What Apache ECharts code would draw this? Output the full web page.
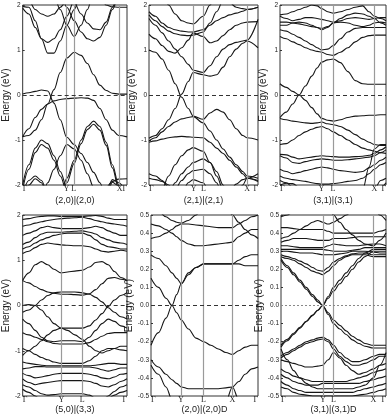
<!DOCTYPE html>
<html>
<head>
<meta charset="utf-8">
<script src="https://cdn.jsdelivr.net/npm/echarts@6/dist/echarts.min.js"></script>
<style>html,body{margin:0;padding:0;background:#fff}#chart{width:391px;height:418px}</style>
</head>
<body>
<div id="chart"></div>
<script>
// k path (fraction of path length) and band energies (eV) per panel
var kPath1 = [0, 0.06, 0.12, 0.18, 0.24, 0.30, 0.36, 0.423, 0.494, 0.56, 0.62, 0.68, 0.74, 0.80, 0.86, 0.92, 1];
var symPos1 = [0, 0.423, 0.494, 0.926, 1];
var symLab1 = ['Γ', 'Y', 'L', 'X', 'Γ'];
var bands1 = [
  [0.02, 0.05, 0.08, 0.11, 0.09, -0.18, -0.55, -0.94, -1.10, -1.30, -1.50, -1.72, -1.95, -2.30, -2.60, -2.60, -2.60],
  [-0.93, -0.90, -0.78, -0.55, -0.20, 0.12, 0.50, 0.82, 0.95, 0.88, 0.70, 0.45, 0.22, 0.10, 0.04, 0.02, 0.02],
  [-0.93, -0.75, -0.50, -0.32, -0.20, -0.13, -0.10, -0.08, -0.07, -0.06, -0.07, -0.12, -0.30, -0.55, -0.78, -0.90, -0.93],
  [-2.00, -1.55, -1.18, -1.00, -1.08, -1.35, -1.70, -2.05, -2.40, -2.60, -2.60, -2.60, -2.60, -2.60, -2.60, -2.60, -2.60],
  [-2.10, -1.65, -1.28, -1.10, -1.18, -1.45, -1.80, -2.15, -2.50, -2.60, -2.60, -2.60, -2.60, -2.60, -2.60, -2.60, -2.60],
  [-2.60, -2.60, -2.60, -2.60, -2.60, -2.60, -2.30, -1.85, -1.45, -1.00, -0.70, -0.58, -0.70, -1.05, -1.55, -2.00, -2.50],
  [-2.60, -2.60, -2.60, -2.60, -2.60, -2.60, -2.40, -1.95, -1.52, -1.08, -0.77, -0.65, -0.78, -1.12, -1.62, -2.08, -2.60],
  [-2.60, -2.60, -2.60, -2.30, -1.95, -1.65, -1.35, -1.10, -1.20, -1.45, -1.75, -2.05, -2.40, -2.60, -2.60, -2.60, -2.60],
  [-2.60, -2.60, -2.60, -2.60, -2.60, -2.60, -2.60, -2.60, -2.60, -2.60, -2.60, -2.60, -2.30, -2.05, -1.92, -1.87, -1.86],
  [-2.20, -1.90, -1.80, -1.90, -2.20, -2.60, -2.60, -2.60, -2.60, -2.60, -2.60, -2.60, -2.60, -2.20, -1.88, -1.95, -2.20],
  [-2.30, -2.00, -1.86, -1.95, -2.30, -2.60, -2.60, -2.60, -2.60, -2.60, -2.60, -2.60, -2.60, -2.30, -1.94, -2.02, -2.30],
  [1.97, 1.95, 1.65, 1.25, 0.93, 0.93, 1.20, 1.55, 1.90, 2.30, 2.60, 2.60, 2.60, 2.60, 2.60, 2.60, 2.60],
  [1.93, 1.80, 1.50, 1.25, 1.17, 1.25, 1.45, 1.75, 2.10, 2.60, 2.60, 2.60, 2.60, 2.60, 2.60, 2.60, 2.60],
  [2.30, 2.10, 1.90, 1.80, 1.75, 1.80, 1.95, 2.10, 2.40, 2.60, 2.60, 2.60, 2.60, 2.60, 2.60, 2.60, 2.60],
  [2.60, 2.60, 2.60, 2.60, 2.60, 2.60, 2.30, 1.95, 1.65, 1.40, 1.25, 1.20, 1.28, 1.55, 1.90, 2.20, 2.50],
  [2.60, 2.60, 2.60, 2.60, 2.60, 2.60, 2.60, 2.40, 2.05, 1.80, 1.60, 1.47, 1.45, 1.62, 1.95, 2.30, 2.60],
  [2.60, 2.60, 2.60, 2.60, 2.60, 2.20, 1.90, 1.55, 1.30, 1.55, 1.90, 2.30, 2.60, 2.60, 2.60, 2.60, 2.60],
  [2.60, 2.60, 2.60, 2.60, 2.60, 2.60, 2.60, 2.60, 2.60, 2.60, 2.60, 2.60, 2.20, 2.00, 1.96, 1.95, 1.95]
];

var kPath2 = [0, 0.06, 0.12, 0.18, 0.24, 0.30, 0.36, 0.405, 0.497, 0.56, 0.62, 0.68, 0.74, 0.80, 0.86, 0.90, 1];
var symPos2 = [0, 0.405, 0.497, 0.90, 1];
var symLab2 = ['Γ', 'Y', 'L', 'X', 'Γ'];
var bands2 = [
  [1.00, 0.95, 0.80, 0.55, 0.25, -0.05, -0.30, -0.47, -0.54, -0.40, -0.32, -0.38, -0.55, -0.75, -0.90, -0.95, -1.00],
  [-0.96, -0.90, -0.75, -0.55, -0.30, 0.02, 0.30, 0.50, 0.45, 0.42, 0.45, 0.62, 0.85, 1.02, 1.15, 1.20, 1.05],
  [-1.02, -0.95, -0.82, -0.70, -0.60, -0.53, -0.50, -0.48, -0.62, -0.80, -1.00, -1.20, -1.38, -1.55, -1.70, -1.80, -1.85],
  [-1.05, -1.02, -0.98, -0.95, -0.93, -0.92, -0.93, -0.94, -0.95, -1.05, -1.18, -1.30, -1.45, -1.60, -1.75, -1.85, -1.90],
  [-2.60, -2.40, -2.10, -1.80, -1.55, -1.35, -1.22, -1.17, -1.25, -1.50, -1.80, -2.10, -2.40, -2.60, -2.60, -2.60, -2.60],
  [-2.60, -2.60, -2.50, -2.20, -1.95, -1.75, -1.60, -1.50, -1.42, -1.50, -1.70, -2.00, -2.40, -2.60, -2.60, -2.60, -2.60],
  [-2.60, -2.60, -2.60, -2.40, -2.10, -1.90, -1.75, -1.68, -1.65, -1.75, -1.95, -2.30, -2.60, -2.60, -2.60, -2.60, -2.60],
  [-2.60, -2.60, -2.60, -2.60, -2.40, -2.20, -1.95, -1.88, -1.95, -2.20, -2.60, -2.60, -2.60, -2.60, -2.60, -2.60, -2.60],
  [-1.75, -1.80, -1.90, -2.05, -2.30, -2.60, -2.60, -2.60, -2.60, -2.60, -2.60, -2.60, -2.60, -2.30, -2.00, -1.85, -1.75],
  [-1.85, -1.88, -1.92, -2.00, -2.20, -2.60, -2.60, -2.60, -2.60, -2.60, -2.60, -2.40, -2.15, -1.98, -1.88, -1.85, -1.92],
  [1.35, 1.25, 1.10, 0.97, 0.93, 1.05, 1.22, 1.38, 1.30, 1.16, 1.20, 1.32, 1.45, 1.55, 1.60, 1.62, 1.63],
  [1.70, 1.55, 1.38, 1.20, 1.02, 0.85, 0.68, 0.55, 0.50, 0.65, 0.85, 1.02, 1.12, 1.17, 1.20, 1.22, 1.68],
  [1.85, 1.75, 1.60, 1.50, 1.45, 1.42, 1.40, 1.40, 1.45, 1.55, 1.65, 1.72, 1.78, 1.82, 1.86, 1.90, 1.95],
  [1.78, 1.65, 1.52, 1.42, 1.36, 1.33, 1.32, 1.33, 1.40, 1.60, 1.85, 2.10, 2.40, 2.60, 2.60, 2.60, 2.60],
  [2.60, 2.60, 2.30, 2.00, 1.80, 1.65, 1.60, 1.58, 1.75, 2.00, 2.30, 2.60, 2.60, 2.60, 2.60, 2.60, 2.60],
  [2.60, 2.60, 2.60, 2.60, 2.60, 2.60, 2.60, 2.60, 2.60, 2.60, 2.60, 2.30, 2.05, 1.95, 1.92, 1.90, 1.95]
];

var kPath3 = [0, 0.06, 0.12, 0.18, 0.24, 0.30, 0.35, 0.393, 0.45, 0.503, 0.57, 0.64, 0.71, 0.78, 0.84, 0.89, 0.95, 1];
var symPos3 = [0, 0.393, 0.503, 0.89, 1];
var symLab3 = ['Γ', 'Y', 'L', 'X', 'Γ'];
var bands3 = [
  [0.25, 0.17, 0.08, 0.00, -0.12, -0.28, -0.42, -0.52, -0.56, -0.58, -0.55, -0.50, -0.47, -0.46, -0.45, -0.45, -0.44, -0.44],
  [-0.50, -0.38, -0.20, 0.00, 0.20, 0.42, 0.60, 0.73, 0.78, 0.80, 0.72, 0.52, 0.32, 0.25, 0.24, 0.24, 0.24, 0.24],
  [-0.52, -0.55, -0.58, -0.60, -0.62, -0.63, -0.62, -0.60, -0.64, -0.66, -0.70, -0.78, -0.88, -0.98, -1.05, -1.10, -1.12, -1.12],
  [-1.10, -1.08, -1.00, -0.90, -0.82, -0.76, -0.72, -0.70, -0.75, -0.82, -0.90, -1.00, -1.10, -1.18, -1.22, -1.25, -1.28, -1.30],
  [-1.32, -1.33, -1.38, -1.42, -1.40, -1.38, -1.36, -1.35, -1.36, -1.37, -1.38, -1.38, -1.37, -1.36, -1.34, -1.30, -1.22, -1.15],
  [-1.35, -1.40, -1.50, -1.52, -1.48, -1.45, -1.43, -1.42, -1.43, -1.45, -1.45, -1.44, -1.42, -1.40, -1.38, -1.35, -1.28, -1.22],
  [-1.65, -1.70, -1.75, -1.72, -1.68, -1.65, -1.62, -1.60, -1.62, -1.65, -1.68, -1.70, -1.72, -1.70, -1.62, -1.55, -1.45, -1.38],
  [-1.80, -1.85, -1.88, -1.90, -1.92, -1.95, -1.97, -1.98, -1.98, -1.97, -1.95, -1.92, -1.90, -1.85, -1.75, -1.65, -1.55, -1.50],
  [-1.90, -1.95, -2.05, -2.20, -2.40, -2.60, -2.60, -2.60, -2.60, -2.60, -2.60, -2.60, -2.60, -2.60, -2.40, -2.10, -1.90, -1.85],
  [-2.00, -1.96, -1.97, -2.05, -2.20, -2.60, -2.60, -2.60, -2.60, -2.60, -2.60, -2.60, -2.60, -2.60, -2.60, -2.30, -2.05, -1.95],
  [-2.60, -2.60, -2.60, -2.60, -2.60, -2.60, -2.60, -2.60, -2.60, -2.60, -2.60, -2.60, -2.40, -2.10, -1.60, -1.20, -1.10, -1.10],
  [1.30, 1.25, 1.18, 1.12, 1.05, 1.00, 0.97, 0.95, 0.90, 0.88, 0.95, 1.05, 1.18, 1.28, 1.32, 1.33, 1.33, 1.33],
  [1.45, 1.42, 1.35, 1.28, 1.20, 1.12, 1.05, 1.00, 1.02, 1.10, 1.25, 1.40, 1.48, 1.50, 1.50, 1.50, 1.50, 1.50],
  [1.55, 1.55, 1.60, 1.62, 1.60, 1.55, 1.50, 1.45, 1.50, 1.60, 1.62, 1.60, 1.55, 1.52, 1.55, 1.60, 1.62, 1.60],
  [1.75, 1.70, 1.65, 1.68, 1.72, 1.72, 1.70, 1.68, 1.65, 1.62, 1.65, 1.70, 1.72, 1.70, 1.68, 1.70, 1.72, 1.72],
  [1.78, 1.80, 1.85, 1.90, 1.95, 2.00, 1.98, 1.92, 1.85, 1.82, 1.85, 1.90, 1.95, 1.98, 1.85, 1.75, 1.70, 1.65],
  [1.62, 1.62, 1.60, 1.58, 1.55, 1.52, 1.50, 1.48, 1.52, 1.60, 1.70, 1.78, 1.82, 1.80, 1.75, 1.70, 1.60, 1.55]
];

var kPath4 = [0, 0.06, 0.12, 0.18, 0.24, 0.30, 0.368, 0.43, 0.50, 0.573, 0.64, 0.70, 0.76, 0.82, 0.88, 0.94, 1];
var symPos4 = [0, 0.368, 0.573, 1];
var symLab4 = ['Γ', 'Y', 'L', 'Γ'];
var bands4 = [
  [0.55, 0.72, 0.90, 0.97, 0.90, 0.80, 0.72, 0.74, 0.76, 0.78, 0.85, 0.95, 0.97, 0.90, 0.75, 0.62, 0.55],
  [0.55, 0.50, 0.42, 0.35, 0.30, 0.27, 0.25, 0.25, 0.24, 0.23, 0.26, 0.35, 0.48, 0.60, 0.62, 0.58, 0.55],
  [0.00, 0.02, 0.00, -0.10, -0.25, -0.40, -0.50, -0.50, -0.50, -0.50, -0.45, -0.32, -0.18, -0.02, 0.12, 0.22, 0.28],
  [-0.15, -0.10, 0.00, 0.12, 0.22, 0.28, 0.30, 0.30, 0.30, 0.28, 0.25, 0.18, 0.08, -0.05, -0.15, -0.25, -0.30],
  [-0.30, -0.40, -0.55, -0.70, -0.78, -0.80, -0.78, -0.78, -0.78, -0.80, -0.70, -0.55, -0.40, -0.30, -0.35, -0.45, -0.50],
  [-0.60, -0.65, -0.70, -0.75, -0.80, -0.84, -0.85, -0.85, -0.85, -0.85, -0.82, -0.75, -0.68, -0.62, -0.60, -0.60, -0.60],
  [-1.10, -1.00, -0.90, -0.78, -0.65, -0.55, -0.50, -0.55, -0.65, -0.75, -0.90, -1.00, -1.05, -1.00, -0.95, -0.90, -0.90],
  [-0.95, -1.00, -1.08, -1.15, -1.20, -1.25, -1.28, -1.28, -1.28, -1.28, -1.22, -1.12, -1.00, -0.95, -0.95, -0.98, -1.00],
  [-1.25, -1.28, -1.30, -1.32, -1.33, -1.33, -1.33, -1.33, -1.33, -1.33, -1.33, -1.32, -1.30, -1.28, -1.28, -1.30, -1.30],
  [-1.40, -1.38, -1.35, -1.35, -1.36, -1.36, -1.36, -1.36, -1.36, -1.36, -1.36, -1.38, -1.42, -1.45, -1.42, -1.38, -1.38],
  [-1.50, -1.55, -1.60, -1.58, -1.55, -1.52, -1.50, -1.50, -1.50, -1.50, -1.52, -1.55, -1.60, -1.62, -1.58, -1.52, -1.50],
  [-1.62, -1.70, -1.75, -1.72, -1.70, -1.68, -1.66, -1.66, -1.66, -1.66, -1.68, -1.72, -1.78, -1.80, -1.75, -1.68, -1.62],
  [-1.75, -1.80, -1.88, -1.95, -1.98, -1.97, -1.95, -1.95, -1.95, -1.95, -1.98, -2.05, -2.10, -2.00, -1.90, -1.80, -1.75],
  [-1.85, -1.92, -2.00, -2.10, -2.20, -2.40, -2.60, -2.60, -2.60, -2.60, -2.60, -2.40, -2.20, -2.05, -1.98, -1.92, -1.88],
  [1.15, 1.20, 1.28, 1.35, 1.38, 1.36, 1.34, 1.33, 1.32, 1.32, 1.30, 1.25, 1.20, 1.18, 1.20, 1.22, 1.20],
  [1.25, 1.30, 1.38, 1.45, 1.50, 1.55, 1.58, 1.60, 1.60, 1.60, 1.55, 1.45, 1.35, 1.30, 1.28, 1.25, 1.25],
  [1.35, 1.40, 1.50, 1.58, 1.62, 1.62, 1.62, 1.63, 1.64, 1.65, 1.62, 1.58, 1.50, 1.45, 1.40, 1.38, 1.35],
  [1.55, 1.60, 1.65, 1.72, 1.75, 1.72, 1.70, 1.70, 1.70, 1.70, 1.72, 1.75, 1.72, 1.65, 1.60, 1.55, 1.55],
  [1.75, 1.78, 1.82, 1.85, 1.88, 1.90, 1.92, 1.93, 1.94, 1.95, 1.92, 1.88, 1.85, 1.82, 1.80, 1.78, 1.75],
  [1.90, 1.92, 1.95, 1.97, 1.98, 1.98, 1.97, 1.97, 1.97, 1.97, 1.98, 1.99, 1.97, 1.93, 1.90, 1.90, 1.90]
];

var kPath5 = [0, 0.07, 0.14, 0.196, 0.24, 0.283, 0.35, 0.42, 0.494, 0.56, 0.63, 0.70, 0.761, 0.82, 0.88, 0.94, 1];
var symPos5 = [0, 0.283, 0.494, 0.761, 1];
var symLab5 = ['Γ', 'Y', 'L', 'X', 'Γ'];
var bands5 = [
  [0.15, 0.10, 0.04, 0.00, -0.04, -0.08, -0.13, -0.18, -0.20, -0.22, -0.24, -0.26, -0.27, -0.25, -0.23, -0.22, -0.22],
  [-0.22, -0.15, -0.07, 0.00, 0.06, 0.12, 0.18, 0.21, 0.23, 0.23, 0.23, 0.23, 0.23, 0.23, 0.22, 0.22, 0.22],
  [0.28, 0.26, 0.22, 0.18, 0.15, 0.12, 0.17, 0.21, 0.23, 0.23, 0.23, 0.23, 0.23, 0.25, 0.27, 0.28, 0.28],
  [-0.30, -0.34, -0.38, -0.41, -0.43, -0.45, -0.46, -0.46, -0.46, -0.46, -0.46, -0.455, -0.45, -0.42, -0.38, -0.35, -0.34],
  [-0.33, -0.38, -0.45, -0.52, -0.58, -0.60, -0.60, -0.60, -0.60, -0.60, -0.60, -0.60, -0.60, -0.60, -0.60, -0.60, -0.60],
  [-0.60, -0.60, -0.60, -0.60, -0.60, -0.60, -0.60, -0.60, -0.60, -0.60, -0.60, -0.53, -0.45, -0.52, -0.60, -0.60, -0.60],
  [0.45, 0.44, 0.42, 0.40, 0.38, 0.36, 0.34, 0.33, 0.33, 0.335, 0.34, 0.345, 0.35, 0.38, 0.40, 0.42, 0.42],
  [0.37, 0.38, 0.40, 0.42, 0.44, 0.45, 0.45, 0.445, 0.44, 0.435, 0.43, 0.43, 0.43, 0.45, 0.47, 0.49, 0.50],
  [0.55, 0.52, 0.49, 0.47, 0.46, 0.455, 0.47, 0.50, 0.55, 0.60, 0.60, 0.60, 0.60, 0.60, 0.60, 0.60, 0.60],
  [0.60, 0.60, 0.60, 0.60, 0.60, 0.60, 0.60, 0.60, 0.60, 0.60, 0.60, 0.55, 0.50, 0.46, 0.42, 0.39, 0.37]
];

var kPath6 = [0, 0.06, 0.12, 0.18, 0.24, 0.30, 0.35, 0.396, 0.45, 0.50, 0.56, 0.62, 0.68, 0.74, 0.80, 0.88, 0.94, 1];
var symPos6 = [0, 0.396, 0.50, 0.88, 1];
var symLab6 = ['Γ', 'Y', 'L', 'X', 'Γ'];
var bands6 = [
  [0.26, 0.22, 0.18, 0.14, 0.10, 0.06, 0.03, 0.00, -0.04, -0.08, -0.11, -0.14, -0.17, -0.19, -0.21, -0.22, -0.22, -0.22],
  [0.25, 0.21, 0.17, 0.13, 0.09, 0.05, 0.02, 0.00, -0.05, -0.10, -0.13, -0.16, -0.19, -0.21, -0.225, -0.235, -0.235, -0.235],
  [-0.22, -0.187, -0.153, -0.12, -0.087, -0.053, -0.026, 0.00, 0.04, 0.08, 0.12, 0.16, 0.20, 0.24, 0.27, 0.30, 0.30, 0.30],
  [-0.23, -0.195, -0.16, -0.125, -0.09, -0.056, -0.027, 0.00, 0.05, 0.10, 0.14, 0.18, 0.22, 0.26, 0.29, 0.31, 0.31, 0.31],
  [0.27, 0.26, 0.25, 0.23, 0.21, 0.19, 0.18, 0.17, 0.19, 0.22, 0.25, 0.27, 0.28, 0.28, 0.28, 0.27, 0.27, 0.27],
  [0.28, 0.27, 0.26, 0.245, 0.23, 0.21, 0.195, 0.19, 0.21, 0.24, 0.26, 0.275, 0.285, 0.29, 0.29, 0.28, 0.28, 0.28],
  [0.30, 0.30, 0.295, 0.29, 0.29, 0.29, 0.285, 0.28, 0.28, 0.28, 0.285, 0.29, 0.30, 0.30, 0.30, 0.295, 0.29, 0.29],
  [0.31, 0.31, 0.31, 0.31, 0.31, 0.31, 0.31, 0.31, 0.305, 0.30, 0.30, 0.30, 0.305, 0.31, 0.32, 0.32, 0.32, 0.32],
  [0.33, 0.33, 0.325, 0.32, 0.32, 0.32, 0.32, 0.32, 0.33, 0.34, 0.335, 0.33, 0.33, 0.33, 0.335, 0.34, 0.34, 0.33],
  [0.43, 0.43, 0.425, 0.42, 0.42, 0.42, 0.42, 0.42, 0.41, 0.40, 0.40, 0.40, 0.40, 0.40, 0.40, 0.40, 0.41, 0.42],
  [0.37, 0.38, 0.40, 0.42, 0.44, 0.46, 0.47, 0.46, 0.45, 0.46, 0.48, 0.50, 0.52, 0.55, 0.60, 0.60, 0.60, 0.60],
  [0.60, 0.60, 0.60, 0.60, 0.60, 0.60, 0.60, 0.60, 0.55, 0.50, 0.46, 0.42, 0.39, 0.36, 0.34, 0.33, 0.36, 0.40],
  [0.35, 0.36, 0.37, 0.37, 0.37, 0.365, 0.36, 0.36, 0.36, 0.37, 0.37, 0.37, 0.375, 0.38, 0.38, 0.38, 0.38, 0.38],
  [0.49, 0.50, 0.52, 0.55, 0.60, 0.60, 0.60, 0.60, 0.60, 0.60, 0.60, 0.60, 0.60, 0.60, 0.60, 0.55, 0.50, 0.47],
  [-0.28, -0.26, -0.24, -0.22, -0.20, -0.19, -0.18, -0.175, -0.19, -0.22, -0.26, -0.29, -0.31, -0.31, -0.30, -0.28, -0.27, -0.27],
  [-0.29, -0.27, -0.25, -0.23, -0.21, -0.20, -0.19, -0.185, -0.20, -0.24, -0.28, -0.31, -0.33, -0.33, -0.32, -0.30, -0.28, -0.28],
  [-0.30, -0.31, -0.32, -0.33, -0.34, -0.34, -0.335, -0.33, -0.30, -0.26, -0.29, -0.33, -0.36, -0.38, -0.37, -0.35, -0.33, -0.32],
  [-0.35, -0.37, -0.39, -0.40, -0.41, -0.42, -0.42, -0.42, -0.42, -0.42, -0.42, -0.42, -0.41, -0.40, -0.39, -0.37, -0.36, -0.35],
  [-0.38, -0.40, -0.42, -0.43, -0.44, -0.44, -0.44, -0.43, -0.43, -0.43, -0.43, -0.43, -0.43, -0.43, -0.42, -0.41, -0.40, -0.39],
  [-0.42, -0.44, -0.46, -0.47, -0.48, -0.48, -0.48, -0.48, -0.48, -0.48, -0.48, -0.48, -0.48, -0.47, -0.46, -0.45, -0.44, -0.43],
  [-0.24, -0.30, -0.36, -0.40, -0.43, -0.45, -0.46, -0.46, -0.46, -0.46, -0.46, -0.46, -0.46, -0.45, -0.44, -0.40, -0.33, -0.26],
  [-0.45, -0.46, -0.48, -0.49, -0.495, -0.50, -0.50, -0.50, -0.50, -0.50, -0.50, -0.50, -0.50, -0.495, -0.49, -0.48, -0.47, -0.46]
];

var titles = ['(2,0)|(2,0)', '(2,1)|(2,1)', '(3,1)|(3,1)', '(5,0)|(3,3)', '(2,0)|(2,0)D', '(3,1)|(3,1)D'];

var panels = [
  { k: kPath1, bands: bands1, sym: symPos1, lab: symLab1, min: -2, max: 2, step: 1 },
  { k: kPath2, bands: bands2, sym: symPos2, lab: symLab2, min: -2, max: 2, step: 1 },
  { k: kPath3, bands: bands3, sym: symPos3, lab: symLab3, min: -2, max: 2, step: 1 },
  { k: kPath4, bands: bands4, sym: symPos4, lab: symLab4, min: -2, max: 2, step: 1 },
  { k: kPath5, bands: bands5, sym: symPos5, lab: symLab5, min: -0.5, max: 0.5, step: 0.1 },
  { k: kPath6, bands: bands6, sym: symPos6, lab: symLab6, min: -0.5, max: 0.5, step: 0.1 }
];

// layout
var grids = [
  { left: 19, top: 5, width: 108, height: 180 },
  { left: 149, top: 5, width: 109, height: 180 },
  { left: 280, top: 5, width: 106, height: 180 },
  { left: 19, top: 215, width: 108, height: 181 },
  { left: 151, top: 215, width: 107, height: 181 },
  { left: 281, top: 215, width: 105, height: 181 }
];
var nameGaps = [9, 7, 7, 8, 12, 11];

var option = { animation: false, grid: [], xAxis: [], yAxis: [], series: [] };

panels.forEach(function (p, i) {
  var g = grids[i];
  option.grid.push({ left: g.left, top: g.top, width: g.width, height: g.height, show: true, borderColor: '#333', borderWidth: 1 });
  option.xAxis.push({
    type: 'value', gridIndex: i, min: 0, max: 1,
    name: titles[i], nameLocation: 'middle', nameGap: i < 3 ? 11 : 9,
    nameTextStyle: { fontSize: 9, color: '#222', fontFamily: 'Liberation Sans' },
    axisLine: { show: false }, axisTick: { show: false }, axisLabel: { show: false }, splitLine: { show: false }
  });
  option.yAxis.push({
    type: 'value', gridIndex: i, min: p.min, max: p.max, interval: p.step,
    name: 'Energy (eV)', nameLocation: 'middle', nameGap: nameGaps[i],
    nameTextStyle: { fontSize: 10, color: '#222', fontFamily: 'Liberation Sans' },
    axisLine: { show: false },
    axisTick: { show: true, inside: true, length: 2, lineStyle: { color: '#333' } },
    axisLabel: {
      fontSize: 6.5, color: '#222', margin: 2, fontFamily: 'Liberation Sans',
      formatter: function (v) { return p.step < 1 ? v.toFixed(1) : String(Math.round(v)); }
    },
    splitLine: { show: false }
  });

  // high-symmetry lines, labels and Fermi level
  var last = p.sym.length - 1;
  var mk = p.sym.map(function (s, j) {
    var edge = (j === 0 || j === last);
    return {
      xAxis: s,
      lineStyle: { color: edge ? 'rgba(0,0,0,0)' : '#9a9a9a', width: 1.2, type: 'solid' },
      label: {
        show: true, position: 'start', distance: 0, formatter: p.lab[j],
        align: j === 0 ? 'left' : (j === last ? 'right' : 'center'),
        color: '#222', fontSize: 8, fontFamily: 'Liberation Serif'
      }
    };
  });
  mk.push({
    yAxis: 0,
    lineStyle: i === 5 ? { color: '#888', type: [2, 2], width: 1 } : { color: '#333', type: [4, 3], width: 1 },
    label: { show: false }
  });
  option.series.push({
    type: 'line', xAxisIndex: i, yAxisIndex: i, data: [], z: 1, silent: true,
    markLine: { silent: true, symbol: ['none', 'none'], animation: false, data: mk }
  });

  p.bands.forEach(function (b) {
    option.series.push({
      type: 'line', xAxisIndex: i, yAxisIndex: i, z: 3, silent: true,
      data: p.k.map(function (k, j) { return [k, b[j]]; }),
      smooth: 0.35, smoothMonotone: 'x', symbol: 'none', clip: true,
      lineStyle: { color: '#161616', width: 1.1 }
    });
  });
});

var myChart = echarts.init(document.getElementById('chart'), null, { renderer: 'canvas' });
myChart.setOption(option);
</script>
</body>
</html>
